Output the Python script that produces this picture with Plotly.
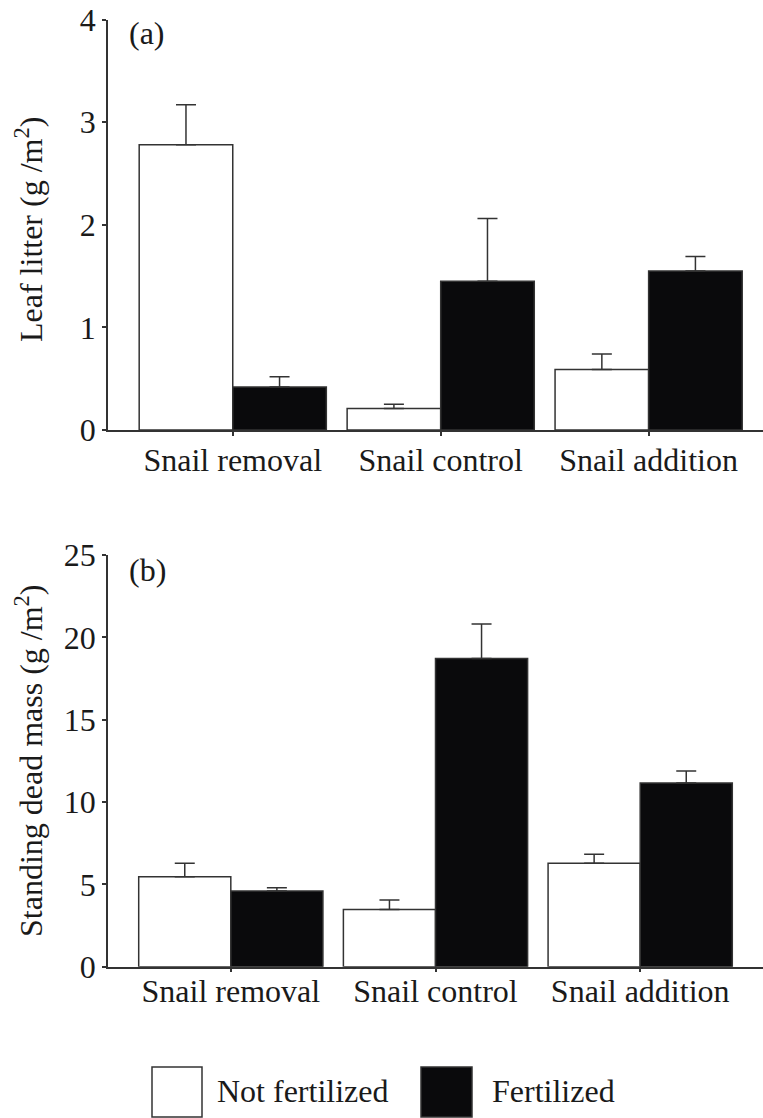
import plotly.graph_objects as go

# ---- data ----
categories = ["Snail removal", "Snail control", "Snail addition"]
series_names = ["Not fertilized", "Fertilized"]

leaf_not_fert = [2.78, 0.21, 0.59]
leaf_not_fert_se = [0.39, 0.04, 0.15]
leaf_fert = [0.42, 1.45, 1.55]
leaf_fert_se = [0.10, 0.61, 0.14]

dead_not_fert = [5.46, 3.48, 6.28]
dead_not_fert_se = [0.82, 0.57, 0.55]
dead_fert = [4.60, 18.72, 11.15]
dead_fert_se = [0.20, 2.09, 0.73]

y_ticks_a = [0, 1, 2, 3, 4]
y_ticks_b = [0, 5, 10, 15, 20, 25]
panel_labels = ["(a)", "(b)"]
y_titles = ["Leaf litter (g /m<sup>2</sup>)", "Standing dead mass (g /m<sup>2</sup>)"]

# ---- style ----
W, H = 763, 1118
FONT = "Liberation Serif"
TXT = "#1a1a1a"
LINE = "#333333"
BLACK = "#0a0a0c"
FS = 32


def py(px):
    return 1 - px / H


def px_x(px):
    return px / W


fig = go.Figure()

xpos = list(range(len(categories)))


def add_panel(vals_nf, se_nf, vals_f, se_f, xa, ya):
    for name, vals, se, fill in [
        (series_names[0], vals_nf, se_nf, "white"),
        (series_names[1], vals_f, se_f, BLACK),
    ]:
        fig.add_trace(go.Bar(
            x=xpos, y=vals, name=name, xaxis=xa, yaxis=ya,
            marker=dict(color=fill, line=dict(color=LINE, width=1.5)),
            error_y=dict(type="data", symmetric=False, array=se,
                         arrayminus=[0] * len(se), color=LINE,
                         thickness=1.5, width=10),
            showlegend=False,
        ))


add_panel(leaf_not_fert, leaf_not_fert_se, leaf_fert, leaf_fert_se, "x", "y")
add_panel(dead_not_fert, dead_not_fert_se, dead_fert, dead_fert_se, "x2", "y2")

axis_common = dict(
    showline=True, linecolor=LINE, linewidth=1.5,
    ticks="outside", ticklen=4, tickwidth=1.5, tickcolor=LINE,
    showgrid=False, zeroline=False, automargin=False,
    tickfont=dict(family=FONT, size=FS, color=TXT),
)

x0 = px_x(108)
fig.update_layout(
    width=W, height=H,
    margin=dict(l=0, r=0, t=0, b=0, autoexpand=False),
    paper_bgcolor="white", plot_bgcolor="white",
    barmode="group", bargap=0.1, bargroupgap=0,
    showlegend=False,
    xaxis=dict(domain=[x0, 1.0], range=[-0.6, 2.55], anchor="y",
               tickmode="array", tickvals=xpos, ticktext=categories,
               ticklabelstandoff=-3, **axis_common),
    yaxis=dict(domain=[py(430), py(19.5)], range=[0, 4], anchor="x",
               tickmode="array", tickvals=y_ticks_a, **axis_common),
    xaxis2=dict(domain=[x0, 1.0], range=[-0.6, 2.6], anchor="y2",
                tickmode="array", tickvals=xpos, ticktext=categories,
                ticklabelstandoff=-9, **axis_common),
    yaxis2=dict(domain=[py(966.7), py(555)], range=[0, 25], anchor="x2",
                tickmode="array", tickvals=y_ticks_b, **axis_common),
)

# panel labels
for lab, ycen in zip(panel_labels, [33, 570]):
    fig.add_annotation(text=lab, xref="paper", yref="paper",
                       x=px_x(127), y=py(ycen), xanchor="left", yanchor="middle",
                       showarrow=False, font=dict(family=FONT, size=FS, color=TXT))

# y-axis titles
for t, ycen in zip(y_titles, [230, 761]):
    fig.add_annotation(text=t, xref="paper", yref="paper",
                       x=px_x(29), y=py(ycen), xanchor="center", yanchor="middle",
                       textangle=-90, showarrow=False,
                       font=dict(family=FONT, size=FS, color=TXT))

# legend (manual, large swatches)
legend_items = [(series_names[0], "white", 152, 202, 215),
                (series_names[1], BLACK, 421, 472, 490)]
for name, fill, bx0, bx1, tx in legend_items:
    fig.add_shape(type="rect", xref="paper", yref="paper",
                  x0=px_x(bx0), x1=px_x(bx1), y0=py(1117), y1=py(1067),
                  fillcolor=fill, line=dict(color=LINE, width=1.5))
    fig.add_annotation(text=name, xref="paper", yref="paper",
                       x=px_x(tx), y=py(1091), xanchor="left", yanchor="middle",
                       showarrow=False, font=dict(family=FONT, size=FS, color=TXT))

fig.write_html("out.html")
